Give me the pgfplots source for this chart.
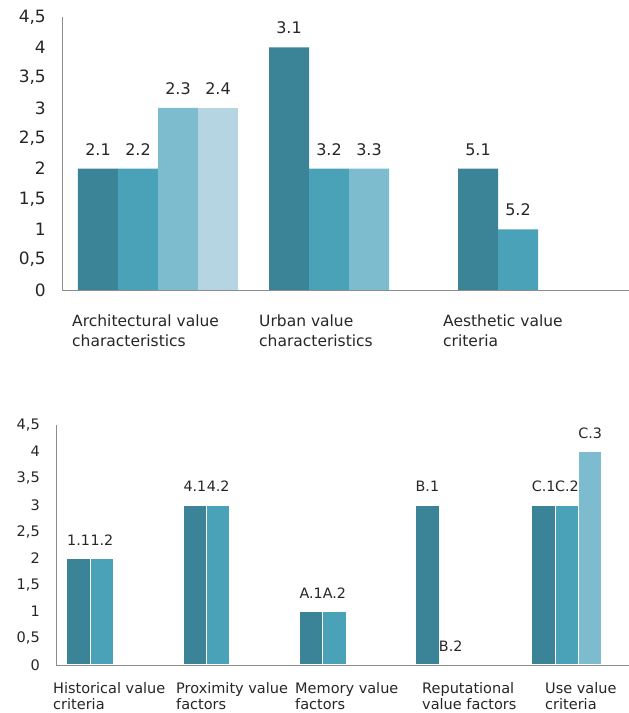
\documentclass[border=0pt]{standalone}
\usepackage{fontspec}
\setmainfont{DejaVu Sans}
\usepackage{pgfplots}
\pgfplotsset{compat=1.18}
\definecolor{c1}{HTML}{3B8497}
\definecolor{c2}{HTML}{4AA2B8}
\definecolor{c3}{HTML}{7DBBCF}
\definecolor{c4}{HTML}{B4D5E1}
\definecolor{axgray}{HTML}{8C8C8C}
\definecolor{txt}{HTML}{262626}
\begin{document}
\begin{tikzpicture}[x=1pt,y=1pt]
\useasboundingbox (0,0) rectangle (629,713);
% ---------------- top chart ----------------
\begin{axis}[
  at={(62pt,423pt)}, anchor=south west,
  scale only axis, width=567pt, height=273pt,
  xmin=62, xmax=629, ymin=0, ymax=4.5,
  ybar, bar width=40,
  axis x line*=bottom, axis y line*=left,
  axis line style={axgray, line width=0.8pt, -},
  ytick={0,0.5,1,1.5,2,2.5,3,3.5,4,4.5},
  /pgf/number format/use comma, /pgf/number format/assume math mode=true,
  yticklabel style={font=\fontsize{17}{17}\selectfont, inner sep=0pt, anchor=east, xshift=-16pt, text=txt},
  major tick length=0pt,
  xtick={72,259,443},
  xticklabels={{Architectural value\\characteristics},{Urban value\\characteristics},{Aesthetic value\\criteria}},
  xticklabel style={font=\fontsize{15.5}{20}\selectfont, align=left, anchor=north west, inner sep=0pt, yshift=-25pt, text=txt},
  point meta=explicit symbolic,
  nodes near coords={\pgfplotspointmeta},
  every node near coord/.append style={font=\fontsize{16}{16}\selectfont, anchor=south, inner sep=0pt, yshift=13.2pt, text=txt},
  clip=false,
]
\addplot[fill=c1, draw=none, bar shift=0pt] coordinates {(98,2) [2.1] (289,4) [3.1] (478,2) [5.1]};
\addplot[fill=c2, draw=none, bar shift=0pt] coordinates {(138,2) [2.2] (329,2) [3.2] (518,1) [5.2]};
\addplot[fill=c3, draw=none, bar shift=0pt] coordinates {(178,3) [2.3] (369,2) [3.3]};
\addplot[fill=c4, draw=none, bar shift=0pt] coordinates {(218,3) [2.4]};
\end{axis}
% ---------------- bottom chart ----------------
\begin{axis}[
  at={(56pt,48pt)}, anchor=south west,
  scale only axis, width=573pt, height=240pt,
  xmin=56, xmax=629, ymin=0, ymax=4.5,
  ybar, bar width=23.3,
  axis x line*=bottom, axis y line*=left,
  axis line style={axgray, line width=0.8pt, -},
  ytick={0,0.5,1,1.5,2,2.5,3,3.5,4,4.5},
  /pgf/number format/use comma, /pgf/number format/assume math mode=true,
  yticklabel style={font=\fontsize{14.5}{14.5}\selectfont, inner sep=0pt, anchor=east, xshift=-16pt, text=txt},
  major tick length=0pt,
  xtick={60,183,302,429,552},
  xticklabels={{Historical value\\criteria},{Proximity value\\factors},{Memory value\\factors},{Reputational\\value factors},{Use value\\criteria}},
  xticklabel style={font=\fontsize{14.5}{16}\selectfont, align=left, anchor=north west, inner sep=0pt, xshift=-7pt, yshift=-17pt, text=txt},
  point meta=explicit symbolic,
  nodes near coords={\pgfplotspointmeta},
  every node near coord/.append style={font=\fontsize{14.3}{14.3}\selectfont, anchor=south, inner sep=0pt, yshift=12.8pt, text=txt},
  clip=false,
]
\addplot[fill=c1, draw=white, line width=1pt, bar shift=0pt] coordinates {(78.6,2) [1.1] (194.9,3) [4.1] (311.1,1) [A.1] (427.4,3) [B.1] (543.6,3) [C.1]};
\addplot[fill=c2, draw=white, line width=1pt, bar shift=0pt] coordinates {(101.9,2) [1.2] (218.2,3) [4.2] (334.4,1) [A.2] (566.9,3) [C.2]};
\addplot[fill=none, draw=none, bar shift=0pt] coordinates {(450.7,0) [B.2]};
\addplot[fill=c3, draw=white, line width=1pt, bar shift=0pt] coordinates {(590.2,4) [C.3]};
\end{axis}
\end{tikzpicture}
\end{document}
